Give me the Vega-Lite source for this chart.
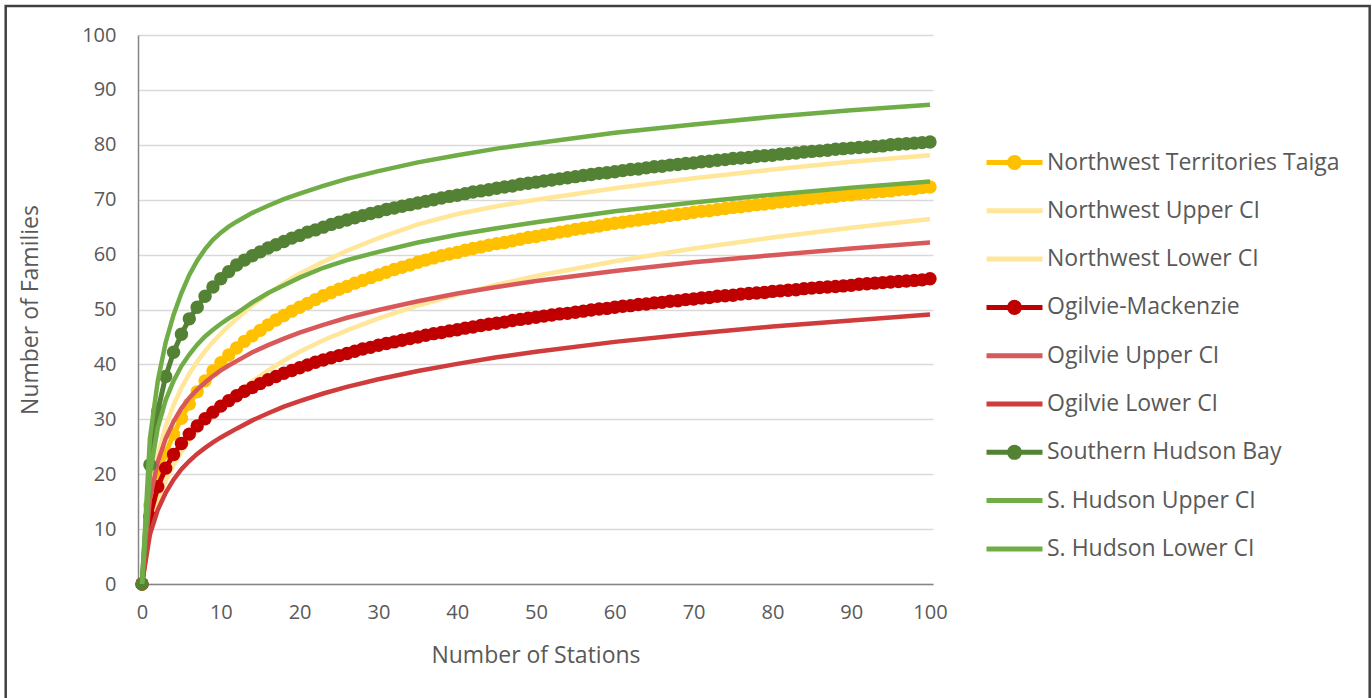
{
  "$schema": "https://vega.github.io/schema/vega-lite/v6.json",
  "width": 795,
  "height": 549,
  "autosize": {"type": "none"},
  "padding": {"left": 138, "top": 35, "right": 439, "bottom": 114},
  "background": "white",
  "config": {
    "view": {"stroke": null},
    "font": "Open Sans",
    "axis": {"labelFont": "Open Sans", "titleFont": "Open Sans", "labelColor": "#595959", "titleColor": "#595959", "titleFontWeight": "normal", "labelFontSize": 20, "titleFontSize": 23, "ticks": false, "domainColor": "#868686", "domainWidth": 1.5}
  },
  "datasets": {
    "nwt": [{"x":0,"y":0},{"x":1,"y":14.4},{"x":2,"y":19.8},{"x":3,"y":23.8},{"x":4,"y":27.3},{"x":5,"y":30.2},{"x":6,"y":32.8},{"x":7,"y":35.0},{"x":8,"y":37.0},{"x":9,"y":38.8},{"x":10,"y":40.3},{"x":11,"y":41.7},{"x":12,"y":43.0},{"x":13,"y":44.2},{"x":14,"y":45.2},{"x":15,"y":46.2},{"x":16,"y":47.2},{"x":17,"y":48.1},{"x":18,"y":48.9},{"x":19,"y":49.7},{"x":20,"y":50.4},{"x":21,"y":51.1},{"x":22,"y":51.8},{"x":23,"y":52.5},{"x":24,"y":53.1},{"x":25,"y":53.7},{"x":26,"y":54.2},{"x":27,"y":54.8},{"x":28,"y":55.3},{"x":29,"y":55.8},{"x":30,"y":56.3},{"x":31,"y":56.8},{"x":32,"y":57.3},{"x":33,"y":57.7},{"x":34,"y":58.1},{"x":35,"y":58.6},{"x":36,"y":59.0},{"x":37,"y":59.4},{"x":38,"y":59.8},{"x":39,"y":60.1},{"x":40,"y":60.4},{"x":41,"y":60.8},{"x":42,"y":61.1},{"x":43,"y":61.4},{"x":44,"y":61.7},{"x":45,"y":62.0},{"x":46,"y":62.2},{"x":47,"y":62.5},{"x":48,"y":62.8},{"x":49,"y":63.1},{"x":50,"y":63.3},{"x":51,"y":63.6},{"x":52,"y":63.8},{"x":53,"y":64.1},{"x":54,"y":64.3},{"x":55,"y":64.6},{"x":56,"y":64.8},{"x":57,"y":65.0},{"x":58,"y":65.2},{"x":59,"y":65.5},{"x":60,"y":65.7},{"x":61,"y":65.9},{"x":62,"y":66.1},{"x":63,"y":66.3},{"x":64,"y":66.5},{"x":65,"y":66.7},{"x":66,"y":66.9},{"x":67,"y":67.1},{"x":68,"y":67.3},{"x":69,"y":67.5},{"x":70,"y":67.7},{"x":71,"y":67.9},{"x":72,"y":68.0},{"x":73,"y":68.2},{"x":74,"y":68.4},{"x":75,"y":68.6},{"x":76,"y":68.7},{"x":77,"y":68.9},{"x":78,"y":69.1},{"x":79,"y":69.2},{"x":80,"y":69.4},{"x":81,"y":69.6},{"x":82,"y":69.7},{"x":83,"y":69.9},{"x":84,"y":70.0},{"x":85,"y":70.2},{"x":86,"y":70.3},{"x":87,"y":70.5},{"x":88,"y":70.6},{"x":89,"y":70.8},{"x":90,"y":70.9},{"x":91,"y":71.1},{"x":92,"y":71.2},{"x":93,"y":71.4},{"x":94,"y":71.5},{"x":95,"y":71.6},{"x":96,"y":71.8},{"x":97,"y":71.9},{"x":98,"y":72.0},{"x":99,"y":72.2},{"x":100,"y":72.3}],
    "nwu": [{"x":0,"y":0},{"x":1,"y":16.0},{"x":2,"y":23.5},{"x":3,"y":28.7},{"x":4,"y":32.6},{"x":5,"y":35.7},{"x":6,"y":38.3},{"x":7,"y":40.5},{"x":8,"y":42.4},{"x":9,"y":44.1},{"x":10,"y":45.6},{"x":11,"y":47.0},{"x":12,"y":48.3},{"x":14,"y":50.8},{"x":16,"y":52.9},{"x":18,"y":54.8},{"x":20,"y":56.5},{"x":23,"y":58.7},{"x":26,"y":60.7},{"x":30,"y":63.0},{"x":35,"y":65.5},{"x":40,"y":67.4},{"x":45,"y":68.8},{"x":50,"y":70.0},{"x":60,"y":72.1},{"x":70,"y":73.9},{"x":80,"y":75.5},{"x":90,"y":76.9},{"x":100,"y":78.1}],
    "nwl": [{"x":0,"y":0},{"x":1,"y":10.5},{"x":2,"y":15.2},{"x":3,"y":18.8},{"x":4,"y":21.7},{"x":5,"y":24.1},{"x":6,"y":26.2},{"x":7,"y":28.0},{"x":8,"y":29.7},{"x":9,"y":31.1},{"x":10,"y":32.4},{"x":11,"y":33.5},{"x":12,"y":34.6},{"x":14,"y":36.9},{"x":16,"y":38.9},{"x":18,"y":40.7},{"x":20,"y":42.3},{"x":23,"y":44.4},{"x":26,"y":46.2},{"x":30,"y":48.4},{"x":35,"y":50.7},{"x":40,"y":52.7},{"x":45,"y":54.5},{"x":50,"y":56.1},{"x":60,"y":58.8},{"x":70,"y":61.1},{"x":80,"y":63.1},{"x":90,"y":64.9},{"x":100,"y":66.5}],
    "ogm": [{"x":0,"y":0},{"x":1,"y":12.3},{"x":2,"y":17.7},{"x":3,"y":21.1},{"x":4,"y":23.6},{"x":5,"y":25.6},{"x":6,"y":27.3},{"x":7,"y":28.8},{"x":8,"y":30.1},{"x":9,"y":31.3},{"x":10,"y":32.4},{"x":11,"y":33.4},{"x":12,"y":34.3},{"x":13,"y":35.1},{"x":14,"y":35.8},{"x":15,"y":36.5},{"x":16,"y":37.2},{"x":17,"y":37.8},{"x":18,"y":38.4},{"x":19,"y":38.9},{"x":20,"y":39.4},{"x":21,"y":39.9},{"x":22,"y":40.4},{"x":23,"y":40.8},{"x":24,"y":41.2},{"x":25,"y":41.6},{"x":26,"y":42.0},{"x":27,"y":42.4},{"x":28,"y":42.8},{"x":29,"y":43.1},{"x":30,"y":43.5},{"x":31,"y":43.8},{"x":32,"y":44.1},{"x":33,"y":44.4},{"x":34,"y":44.7},{"x":35,"y":45.0},{"x":36,"y":45.3},{"x":37,"y":45.6},{"x":38,"y":45.8},{"x":39,"y":46.1},{"x":40,"y":46.3},{"x":41,"y":46.6},{"x":42,"y":46.8},{"x":43,"y":47.1},{"x":44,"y":47.3},{"x":45,"y":47.5},{"x":46,"y":47.7},{"x":47,"y":48.0},{"x":48,"y":48.2},{"x":49,"y":48.4},{"x":50,"y":48.6},{"x":51,"y":48.8},{"x":52,"y":49.0},{"x":53,"y":49.2},{"x":54,"y":49.3},{"x":55,"y":49.5},{"x":56,"y":49.7},{"x":57,"y":49.9},{"x":58,"y":50.1},{"x":59,"y":50.2},{"x":60,"y":50.4},{"x":61,"y":50.6},{"x":62,"y":50.7},{"x":63,"y":50.9},{"x":64,"y":51.0},{"x":65,"y":51.2},{"x":66,"y":51.3},{"x":67,"y":51.5},{"x":68,"y":51.6},{"x":69,"y":51.8},{"x":70,"y":51.9},{"x":71,"y":52.1},{"x":72,"y":52.2},{"x":73,"y":52.4},{"x":74,"y":52.5},{"x":75,"y":52.6},{"x":76,"y":52.8},{"x":77,"y":52.9},{"x":78,"y":53.0},{"x":79,"y":53.1},{"x":80,"y":53.3},{"x":81,"y":53.4},{"x":82,"y":53.5},{"x":83,"y":53.6},{"x":84,"y":53.8},{"x":85,"y":53.9},{"x":86,"y":54.0},{"x":87,"y":54.1},{"x":88,"y":54.2},{"x":89,"y":54.3},{"x":90,"y":54.4},{"x":91,"y":54.6},{"x":92,"y":54.7},{"x":93,"y":54.8},{"x":94,"y":54.9},{"x":95,"y":55.0},{"x":96,"y":55.1},{"x":97,"y":55.2},{"x":98,"y":55.3},{"x":99,"y":55.4},{"x":100,"y":55.6}],
    "ogu": [{"x":0,"y":0},{"x":1,"y":15.5},{"x":2,"y":22.2},{"x":3,"y":26.5},{"x":4,"y":29.6},{"x":5,"y":32.0},{"x":6,"y":33.9},{"x":7,"y":35.4},{"x":8,"y":36.7},{"x":9,"y":37.9},{"x":10,"y":38.9},{"x":11,"y":39.8},{"x":12,"y":40.6},{"x":14,"y":42.2},{"x":16,"y":43.5},{"x":18,"y":44.7},{"x":20,"y":45.8},{"x":23,"y":47.2},{"x":26,"y":48.5},{"x":30,"y":49.9},{"x":35,"y":51.5},{"x":40,"y":52.9},{"x":45,"y":54.1},{"x":50,"y":55.2},{"x":60,"y":57.0},{"x":70,"y":58.6},{"x":80,"y":59.9},{"x":90,"y":61.1},{"x":100,"y":62.2}],
    "ogl": [{"x":0,"y":0},{"x":1,"y":9.0},{"x":2,"y":13.5},{"x":3,"y":16.6},{"x":4,"y":19.0},{"x":5,"y":20.9},{"x":6,"y":22.4},{"x":7,"y":23.7},{"x":8,"y":24.8},{"x":9,"y":25.8},{"x":10,"y":26.7},{"x":11,"y":27.5},{"x":12,"y":28.3},{"x":14,"y":29.8},{"x":16,"y":31.1},{"x":18,"y":32.3},{"x":20,"y":33.3},{"x":23,"y":34.7},{"x":26,"y":35.9},{"x":30,"y":37.3},{"x":35,"y":38.8},{"x":40,"y":40.1},{"x":45,"y":41.3},{"x":50,"y":42.3},{"x":60,"y":44.1},{"x":70,"y":45.6},{"x":80,"y":46.9},{"x":90,"y":48.0},{"x":100,"y":49.1}],
    "shb": [{"x":0,"y":0},{"x":1,"y":21.7},{"x":2,"y":31.5},{"x":3,"y":37.8},{"x":4,"y":42.2},{"x":5,"y":45.5},{"x":6,"y":48.3},{"x":7,"y":50.4},{"x":8,"y":52.4},{"x":9,"y":54.1},{"x":10,"y":55.6},{"x":11,"y":56.9},{"x":12,"y":58.1},{"x":13,"y":59.0},{"x":14,"y":59.8},{"x":15,"y":60.5},{"x":16,"y":61.2},{"x":17,"y":61.8},{"x":18,"y":62.4},{"x":19,"y":63.0},{"x":20,"y":63.5},{"x":21,"y":64.1},{"x":22,"y":64.5},{"x":23,"y":65.0},{"x":24,"y":65.5},{"x":25,"y":65.9},{"x":26,"y":66.3},{"x":27,"y":66.7},{"x":28,"y":67.1},{"x":29,"y":67.5},{"x":30,"y":67.8},{"x":31,"y":68.2},{"x":32,"y":68.5},{"x":33,"y":68.8},{"x":34,"y":69.1},{"x":35,"y":69.4},{"x":36,"y":69.7},{"x":37,"y":70.0},{"x":38,"y":70.3},{"x":39,"y":70.6},{"x":40,"y":70.8},{"x":41,"y":71.1},{"x":42,"y":71.4},{"x":43,"y":71.6},{"x":44,"y":71.8},{"x":45,"y":72.1},{"x":46,"y":72.3},{"x":47,"y":72.5},{"x":48,"y":72.8},{"x":49,"y":73.0},{"x":50,"y":73.2},{"x":51,"y":73.4},{"x":52,"y":73.6},{"x":53,"y":73.8},{"x":54,"y":74.0},{"x":55,"y":74.2},{"x":56,"y":74.4},{"x":57,"y":74.6},{"x":58,"y":74.8},{"x":59,"y":74.9},{"x":60,"y":75.1},{"x":61,"y":75.3},{"x":62,"y":75.5},{"x":63,"y":75.6},{"x":64,"y":75.8},{"x":65,"y":76.0},{"x":66,"y":76.1},{"x":67,"y":76.3},{"x":68,"y":76.4},{"x":69,"y":76.6},{"x":70,"y":76.7},{"x":71,"y":76.9},{"x":72,"y":77.0},{"x":73,"y":77.2},{"x":74,"y":77.3},{"x":75,"y":77.5},{"x":76,"y":77.6},{"x":77,"y":77.7},{"x":78,"y":77.9},{"x":79,"y":78.0},{"x":80,"y":78.1},{"x":81,"y":78.3},{"x":82,"y":78.4},{"x":83,"y":78.5},{"x":84,"y":78.7},{"x":85,"y":78.8},{"x":86,"y":78.9},{"x":87,"y":79.0},{"x":88,"y":79.2},{"x":89,"y":79.3},{"x":90,"y":79.4},{"x":91,"y":79.5},{"x":92,"y":79.6},{"x":93,"y":79.7},{"x":94,"y":79.8},{"x":95,"y":80.0},{"x":96,"y":80.1},{"x":97,"y":80.2},{"x":98,"y":80.3},{"x":99,"y":80.4},{"x":100,"y":80.5}],
    "shu": [{"x":0,"y":0},{"x":1,"y":26.5},{"x":2,"y":37.0},{"x":3,"y":44.0},{"x":4,"y":49.0},{"x":5,"y":53.0},{"x":6,"y":56.3},{"x":7,"y":58.9},{"x":8,"y":61.0},{"x":9,"y":62.7},{"x":10,"y":64.0},{"x":11,"y":65.1},{"x":12,"y":66.0},{"x":14,"y":67.6},{"x":16,"y":68.9},{"x":18,"y":70.1},{"x":20,"y":71.1},{"x":23,"y":72.5},{"x":26,"y":73.8},{"x":30,"y":75.2},{"x":35,"y":76.8},{"x":40,"y":78.1},{"x":45,"y":79.3},{"x":50,"y":80.3},{"x":60,"y":82.2},{"x":70,"y":83.7},{"x":80,"y":85.1},{"x":90,"y":86.3},{"x":100,"y":87.3}],
    "shl": [{"x":0,"y":0},{"x":1,"y":20.0},{"x":2,"y":28.5},{"x":3,"y":33.5},{"x":4,"y":37.0},{"x":5,"y":39.7},{"x":6,"y":41.8},{"x":7,"y":43.6},{"x":8,"y":45.1},{"x":9,"y":46.3},{"x":10,"y":47.4},{"x":11,"y":48.4},{"x":12,"y":49.3},{"x":14,"y":51.3},{"x":16,"y":53.0},{"x":18,"y":54.4},{"x":20,"y":55.8},{"x":23,"y":57.6},{"x":26,"y":59.0},{"x":30,"y":60.5},{"x":35,"y":62.2},{"x":40,"y":63.6},{"x":45,"y":64.8},{"x":50,"y":65.9},{"x":60,"y":67.9},{"x":70,"y":69.5},{"x":80,"y":70.9},{"x":90,"y":72.2},{"x":100,"y":73.3}]
  },
  "layer": [
    {
      "data": {"values": [{}]},
      "mark": {"type": "rect", "filled": false, "stroke": "#404040", "strokeWidth": 2.5},
      "encoding": {
        "x": {"datum": -17.3, "type": "quantitative", "scale": {"domain": [-0.51, 100.38], "nice": false, "zero": false},
              "axis": {"values": [0,10,20,30,40,50,60,70,80,90,100], "grid": false, "labelPadding": 18, "title": "Number of Stations", "titleY": 71, "titleBaseline": "middle"}},
        "x2": {"datum": 155.8},
        "y": {"datum": 105.3, "type": "quantitative", "scale": {"domain": [0, 100], "nice": false, "zero": false},
              "axis": {"values": [0,10,20,30,40,50,60,70,80,90,100], "grid": true, "gridColor": "#D9D9D9", "gridWidth": 1.3, "labelPadding": 22, "title": "Number of Families", "titleX": -108, "titleBaseline": "middle"}},
        "y2": {"datum": -22}
      }
    },
    {
      "data": {"name": "nwt"},
      "mark": {"type": "line", "strokeWidth": 5, "point": {"filled": true, "size": 180, "opacity": 1}},
      "encoding": {
        "x": {"field": "x", "type": "quantitative"},
        "y": {"field": "y", "type": "quantitative"},
        "color": {"datum": "Northwest Territories Taiga", "type": "nominal",
          "scale": {"domain": ["Northwest Territories Taiga", "Northwest Upper CI", "Northwest Lower CI", "Ogilvie-Mackenzie", "Ogilvie Upper CI", "Ogilvie Lower CI", "Southern Hudson Bay", "S. Hudson Upper CI", "S. Hudson Lower CI"],
                    "range": ["#FFC000", "#FFE699", "#FFE699", "#C00000", "#D9595B", "#D03B3B", "#548235", "#70AD47", "#70AD47"]},
          "legend": {"title": null, "orient": "none", "legendX": 846, "legendY": 117.5, "padding": 0,
            "symbolSize": 3136, "clipHeight": 20, "rowPadding": 25.3, "labelOffset": 2,
            "labelFont": "Open Sans", "labelFontSize": 23, "labelColor": "#595959", "labelLimit": 400,
            "symbolStrokeWidth": 5, "symbolOpacity": 1,
            "encode": {"symbols": {"update": {
              "shape": {"signal": "indexof(['Northwest Territories Taiga','Ogilvie-Mackenzie','Southern Hudson Bay'], datum.value) >= 0 ? 'M-1,0L1,0M0.18,0A0.18,0.18,0,1,1,-0.18,0A0.18,0.18,0,1,1,0.18,0Z' : 'M-1,0L1,0'"},
              "fill": {"scale": "color", "field": "value"},
              "stroke": {"scale": "color", "field": "value"},
              "strokeWidth": {"value": 5},
              "opacity": {"value": 1}
            }}}
          }
        }
      }
    },
    {
      "data": {"name": "nwu"},
      "mark": {"type": "line", "strokeWidth": 4.5},
      "encoding": {"x": {"field": "x", "type": "quantitative"}, "y": {"field": "y", "type": "quantitative"}, "color": {"datum": "Northwest Upper CI", "type": "nominal"}}
    },
    {
      "data": {"name": "nwl"},
      "mark": {"type": "line", "strokeWidth": 4.5},
      "encoding": {"x": {"field": "x", "type": "quantitative"}, "y": {"field": "y", "type": "quantitative"}, "color": {"datum": "Northwest Lower CI", "type": "nominal"}}
    },
    {
      "data": {"name": "ogm"},
      "mark": {"type": "line", "strokeWidth": 5, "point": {"filled": true, "size": 180, "opacity": 1}},
      "encoding": {"x": {"field": "x", "type": "quantitative"}, "y": {"field": "y", "type": "quantitative"}, "color": {"datum": "Ogilvie-Mackenzie", "type": "nominal"}}
    },
    {
      "data": {"name": "ogu"},
      "mark": {"type": "line", "strokeWidth": 4.5},
      "encoding": {"x": {"field": "x", "type": "quantitative"}, "y": {"field": "y", "type": "quantitative"}, "color": {"datum": "Ogilvie Upper CI", "type": "nominal"}}
    },
    {
      "data": {"name": "ogl"},
      "mark": {"type": "line", "strokeWidth": 4.5},
      "encoding": {"x": {"field": "x", "type": "quantitative"}, "y": {"field": "y", "type": "quantitative"}, "color": {"datum": "Ogilvie Lower CI", "type": "nominal"}}
    },
    {
      "data": {"name": "shb"},
      "mark": {"type": "line", "strokeWidth": 5, "point": {"filled": true, "size": 180, "opacity": 1}},
      "encoding": {"x": {"field": "x", "type": "quantitative"}, "y": {"field": "y", "type": "quantitative"}, "color": {"datum": "Southern Hudson Bay", "type": "nominal"}}
    },
    {
      "data": {"name": "shu"},
      "mark": {"type": "line", "strokeWidth": 4.5},
      "encoding": {"x": {"field": "x", "type": "quantitative"}, "y": {"field": "y", "type": "quantitative"}, "color": {"datum": "S. Hudson Upper CI", "type": "nominal"}}
    },
    {
      "data": {"name": "shl"},
      "mark": {"type": "line", "strokeWidth": 4.5},
      "encoding": {"x": {"field": "x", "type": "quantitative"}, "y": {"field": "y", "type": "quantitative"}, "color": {"datum": "S. Hudson Lower CI", "type": "nominal"}}
    }
  ]
}
